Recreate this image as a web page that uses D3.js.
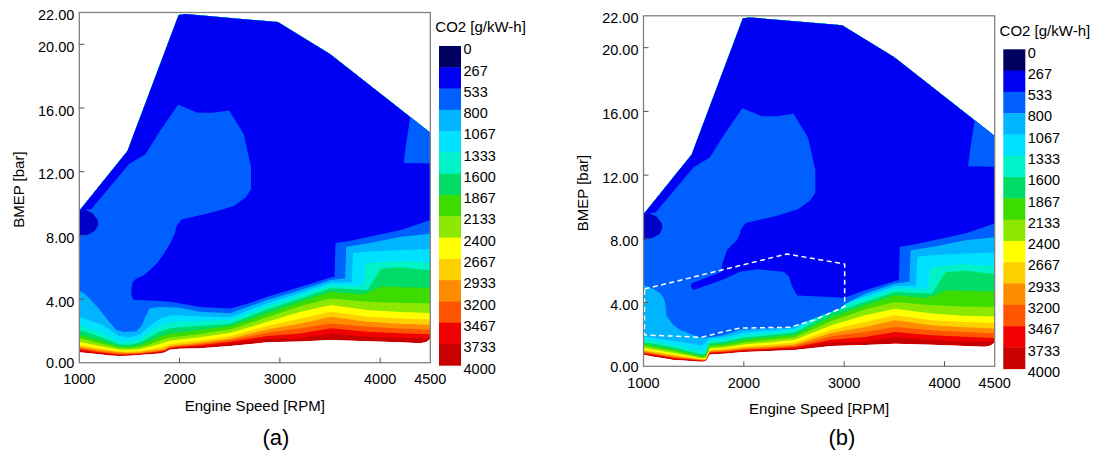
<!DOCTYPE html>
<html>
<head>
<meta charset="utf-8">
<script src="https://cdn.jsdelivr.net/npm/d3@7"></script>
<style>
  body { margin: 0; background: #fff; }
  svg { display: block; }
  text { font-family: "Liberation Sans", Arial, sans-serif; fill: #000; }
</style>
</head>
<body>
<svg id="chart" width="1099" height="457"></svg>
<script>
// ---- colour scale: CO2 [g/kW-h] ----
const levels = [0, 267, 533, 800, 1067, 1333, 1600, 1867, 2133, 2400, 2667, 2933, 3200, 3467, 3733, 4000];
const bandColors = ["#000060", "#0000F5", "#0060FF", "#00B4FF", "#00E1FF", "#00F2C8", "#00DC66",
                    "#3CDC00", "#8CE800", "#FFFF00", "#FFD000", "#FF8C00", "#FF5500", "#F00000", "#C80000"];
const blobNavy = "#0000C8";

// ---- axes ----
const rpmTicks = [1000, 2000, 3000, 4000, 4500];
const bmepTicks = [0, 4, 8, 12, 16, 20, 22];

// ---- operating envelope (rpm, bar) ----
const fullLoad = [[1000, 9.55], [1480, 13.3], [1990, 21.85], [2060, 21.9], [2980, 21.4], [3500, 19.4], [4500, 14.45]];
const bottomEast = [[2874, 1.28], [3207, 1.33], [3507, 1.42], [3874, 1.35], [4200, 1.28], [4400, 1.22], [4460, 1.3], [4500, 1.5]];
const bottomWestA = [[1000, 0.66], [1100, 0.6], [1200, 0.53], [1300, 0.45], [1400, 0.42], [1500, 0.44], [1600, 0.48], [1700, 0.53],
                     [1800, 0.58], [1850, 0.64], [1900, 0.82], [2000, 0.88], [2207, 0.9], [2507, 1.05]];
const bottomWestB = [[1000, 0.72], [1100, 0.6], [1200, 0.5], [1300, 0.4], [1400, 0.36], [1500, 0.32], [1580, 0.29], [1620, 0.31],
                     [1660, 0.74], [1800, 0.78], [2000, 0.9], [2250, 0.96], [2507, 1.03]];

// ---- isolines east of 2850 rpm (shared by both maps) ----
const east3733 = [[2874, 1.51], [3207, 1.53], [3507, 1.84], [3874, 1.63], [4200, 1.55], [4500, 1.55]];
const east3467 = [[2874, 1.67], [3207, 1.84], [3507, 2.16], [3874, 1.95], [4200, 1.85], [4500, 1.78]];
const east3200 = [[2874, 1.88], [3207, 2.16], [3507, 2.47], [3874, 2.26], [4200, 2.15], [4500, 2.07]];
const east2933 = [[2874, 2.09], [3207, 2.47], [3507, 2.89], [3874, 2.57], [4200, 2.45], [4500, 2.38]];
const east2667 = [[2874, 2.3], [3207, 2.78], [3507, 3.2], [3874, 2.89], [4200, 2.78], [4500, 2.72]];
const east2400 = [[2874, 2.57], [3207, 3.2], [3507, 3.62], [3874, 3.31], [4200, 3.18], [4500, 3.12]];
const east2133 = [[2874, 2.85], [3207, 3.56], [3507, 4.04], [3874, 3.83], [4200, 3.76], [4500, 3.72]];
const east1867 = [[2874, 3.1], [3207, 3.83], [3507, 4.46], [3807, 4.3], [3900, 4.45], [4007, 4.78], [4500, 4.7]];
const east1600 = [[2874, 3.35], [3207, 4.04], [3507, 4.67], [3874, 4.56], [3950, 5.3], [4010, 5.9], [4207, 6.0], [4500, 5.8]];
const east1333 = [[2874, 3.56], [3207, 4.25], [3507, 4.88], [3830, 4.85], [3860, 6.24], [4207, 6.4], [4500, 6.3]];
const east1067 = [[2874, 3.73], [3207, 4.4], [3507, 5.02], [3715, 5.05], [3730, 6.87], [3874, 6.97], [4207, 7.08], [4500, 7.15]];
const east800 = [[3207, 4.56], [3507, 5.19], [3650, 5.3], [3662, 7.29], [3874, 7.49], [4207, 7.91], [4500, 8.1]];
const east533 = [[3207, 4.77], [3507, 5.36], [3545, 5.4], [3555, 7.5], [3707, 7.66], [4207, 8.33], [4500, 8.96]];

// ---- isolines west of 2850 rpm, map (a) ----
const westA3733 = [[1000, 0.76], [1200, 0.6], [1400, 0.47], [1500, 0.49], [1600, 0.52], [1700, 0.59], [1800, 0.65], [1850, 0.7], [1900, 0.88], [2000, 0.94], [2207, 1.0], [2507, 1.2]];
const westA3467 = [[1000, 0.84], [1200, 0.66], [1400, 0.52], [1500, 0.53], [1600, 0.56], [1700, 0.63], [1800, 0.7], [1850, 0.75], [1900, 0.92], [2000, 1.0], [2207, 1.1], [2507, 1.32]];
const westA3200 = [[1000, 0.92], [1200, 0.72], [1400, 0.58], [1500, 0.58], [1600, 0.6], [1700, 0.68], [1800, 0.75], [1850, 0.8], [1900, 0.97], [2000, 1.05], [2207, 1.18], [2507, 1.42]];
const westA2933 = [[1000, 1.01], [1200, 0.8], [1400, 0.65], [1500, 0.63], [1600, 0.66], [1700, 0.75], [1800, 0.82], [1850, 0.88], [1900, 1.05], [2000, 1.13], [2207, 1.27], [2507, 1.52]];
const westA2667 = [[1000, 1.11], [1200, 0.9], [1400, 0.72], [1500, 0.7], [1600, 0.73], [1700, 0.85], [1800, 0.95], [1900, 1.15], [2000, 1.25], [2207, 1.4], [2507, 1.68]];
const westA2400 = [[1000, 1.32], [1200, 1.05], [1400, 0.82], [1500, 0.8], [1600, 0.85], [1700, 1.0], [1800, 1.18], [1900, 1.38], [2000, 1.45], [2207, 1.6], [2507, 1.88]];
const westA2133 = [[1000, 1.53], [1200, 1.22], [1400, 0.92], [1500, 0.9], [1600, 0.97], [1700, 1.15], [1800, 1.4], [1900, 1.58], [2000, 1.65], [2207, 1.8], [2507, 2.1]];
const westA1867 = [[1000, 1.74], [1200, 1.4], [1400, 1.02], [1500, 1.0], [1600, 1.1], [1700, 1.35], [1800, 1.65], [1900, 1.83], [2000, 1.9], [2207, 2.05], [2507, 2.3]];
const westA1600 = [[1000, 2.05], [1200, 1.65], [1400, 1.15], [1500, 1.12], [1600, 1.25], [1700, 1.6], [1800, 1.95], [1900, 2.15], [2000, 2.22], [2207, 2.3], [2507, 2.45]];
const westA1333 = [[1000, 2.37], [1200, 1.95], [1400, 1.32], [1500, 1.3], [1600, 1.45], [1700, 1.9], [1800, 2.3], [1900, 2.52], [2000, 2.6], [2207, 2.6], [2507, 2.68]];
const westA1067 = [[1000, 2.89], [1200, 2.45], [1300, 2.1], [1400, 1.68], [1500, 1.6], [1600, 1.75], [1700, 2.3], [1800, 2.75], [1900, 2.95], [2000, 2.98], [2207, 2.9], [2507, 2.85]];
const westA800 = [[1000, 4.5], [1050, 4.35], [1100, 4.05], [1200, 3.35], [1300, 2.55], [1370, 2.05], [1450, 1.93], [1570, 1.97], [1620, 2.3],
                  [1660, 2.9], [1700, 3.4], [1800, 3.5], [2000, 3.45], [2207, 3.2], [2507, 3.1], [2874, 3.94]];
// lower edge of the 267-533 region, running west from 2874 rpm
const westA533 = [[2874, 4.15], [2700, 3.75], [2507, 3.4], [2207, 3.5], [1907, 3.83], [1700, 3.9], [1540, 3.95], [1520, 4.2], [1520, 4.6],
                  [1530, 5.05], [1570, 5.3], [1630, 5.45], [1700, 5.8], [1774, 6.24], [1850, 6.9], [1907, 7.5], [1955, 8.15]];

// ---- isolines west of 2850 rpm, map (b) ----
const westB3733 = [[1000, 0.78], [1300, 0.46], [1580, 0.33], [1620, 0.34], [1660, 0.8], [1800, 0.85], [2000, 0.96], [2250, 1.03], [2507, 1.12]];
const westB3467 = [[1000, 0.84], [1300, 0.52], [1580, 0.36], [1620, 0.37], [1660, 0.86], [1800, 0.9], [2000, 1.02], [2250, 1.1], [2507, 1.2]];
const westB3200 = [[1000, 0.9], [1300, 0.58], [1580, 0.39], [1620, 0.4], [1660, 0.92], [1800, 0.96], [2000, 1.08], [2250, 1.17], [2507, 1.28]];
const westB2933 = [[1000, 0.96], [1300, 0.65], [1580, 0.42], [1620, 0.43], [1660, 0.97], [1800, 1.02], [2000, 1.15], [2250, 1.25], [2507, 1.37]];
const westB2667 = [[1000, 1.04], [1300, 0.73], [1580, 0.46], [1620, 0.47], [1660, 1.03], [1800, 1.08], [2000, 1.24], [2250, 1.35], [2507, 1.5]];
const westB2400 = [[1000, 1.15], [1300, 0.83], [1580, 0.5], [1620, 0.52], [1660, 1.12], [1800, 1.17], [2000, 1.37], [2250, 1.5], [2507, 1.66]];
const westB2133 = [[1000, 1.27], [1300, 0.94], [1580, 0.56], [1620, 0.58], [1660, 1.22], [1800, 1.27], [2000, 1.5], [2250, 1.65], [2507, 1.82]];
const westB1867 = [[1000, 1.4], [1300, 1.06], [1580, 0.64], [1620, 0.66], [1660, 1.34], [1800, 1.4], [2000, 1.64], [2250, 1.8], [2507, 1.98]];
const westB1600 = [[1000, 1.53], [1300, 1.2], [1580, 0.74], [1620, 0.8], [1660, 1.46], [1800, 1.53], [2000, 1.8], [2250, 1.95], [2507, 2.12]];
const westB1333 = [[1000, 1.68], [1300, 1.36], [1580, 0.92], [1620, 1.1], [1660, 1.6], [1800, 1.66], [2000, 1.96], [2250, 2.1], [2507, 2.27]];
const westB1067 = [[1000, 1.88], [1300, 1.6], [1580, 1.3], [1620, 1.5], [1660, 1.74], [1800, 1.82], [2000, 2.12], [2250, 2.25], [2507, 2.38]];
const westB800 = [[1000, 5.1], [1100, 4.85], [1165, 4.58], [1200, 4.3], [1215, 4.0], [1232, 3.12], [1298, 2.6], [1365, 2.28], [1500, 1.95],
                  [1585, 1.78], [1640, 1.83], [1700, 1.86], [1800, 1.97], [1965, 2.3], [2300, 2.4], [2465, 2.45], [2698, 3.0], [2965, 3.64], [3005, 3.9]];
const westB533 = [[3005, 4.3], [2532, 4.45], [2482, 5.0], [2448, 5.63], [2398, 5.94], [2132, 6.09], [1965, 5.94], [1782, 5.42], [1498, 4.79],
                  [1472, 5.0], [1482, 5.21], [1782, 5.94], [1782, 6.36], [1832, 7.3], [1932, 7.93], [1960, 8.3]];

// ---- 533-800 island at mid load and high load corner, 0-267 pocket at 1000 rpm ----
const upperBlob = [[1970, 8.6], [2020, 9.0], [2330, 9.45], [2540, 9.85], [2660, 10.4], [2712, 10.9], [2712, 12.3], [2640, 14.35],
                   [2495, 15.85], [2330, 15.7], [2180, 15.7], [1985, 16.2], [1810, 14.6], [1660, 13.1], [1500, 12.5], [1120, 9.65]];
const cornerBlob = [[4300, 15.45], [4290, 15.0], [4260, 13.8], [4235, 12.55], [4500, 12.52], [4500, 14.45]];
const navyBlob = [[1000, 9.55], [1060, 9.6], [1130, 9.4], [1180, 9.0], [1190, 8.7], [1160, 8.3], [1090, 8.05], [1000, 7.95]];

// ---- region marked on map (b) ----
const markedZone = [[1010, 4.85], [2430, 7.05], [3005, 6.42], [3005, 3.75], [2700, 2.9], [2460, 2.45], [1960, 2.4], [1750, 2.1], [1580, 1.82], [1010, 1.97]];

const isoLevels = [3733, 3467, 3200, 2933, 2667, 2400, 2133, 1867, 1600, 1333, 1067, 800];
const isoA = [westA3733.concat(east3733), westA3467.concat(east3467), westA3200.concat(east3200), westA2933.concat(east2933),
              westA2667.concat(east2667), westA2400.concat(east2400), westA2133.concat(east2133), westA1867.concat(east1867),
              westA1600.concat(east1600), westA1333.concat(east1333), westA1067.concat(east1067), westA800.concat(east800)];
const isoB = [westB3733.concat(east3733), westB3467.concat(east3467), westB3200.concat(east3200), westB2933.concat(east2933),
              westB2667.concat(east2667), westB2400.concat(east2400), westB2133.concat(east2133), westB1867.concat(east1867),
              westB1600.concat(east1600), westB1333.concat(east1333), westB1067.concat(east1067), westB800.concat(east800)];

const panels = [
  { key: "a", left: 79.3, right: 430.3, top: 12.5, bottom: 362.7, legX: 439, legTop: 46, legBottom: 365.3,
    caption: "(a)", capX: 276, iso: isoA, floor: bottomWestA.concat(bottomEast), lower533: westA533, zone: null },
  { key: "b", left: 643.5, right: 994.7, top: 15.8, bottom: 366.3, legX: 1003.3, legTop: 49.3, legBottom: 368.7,
    caption: "(b)", capX: 842, iso: isoB, floor: bottomWestB.concat(bottomEast), lower533: westB533, zone: markedZone }
];

const svg = d3.select("#chart");
const fontPx = "14.5px";

panels.forEach(p => {
  const x = d3.scaleLinear().domain([1000, 4500]).range([p.left, p.right]);
  const y = d3.scaleLinear().domain([0, 22]).range([p.bottom, p.top]);
  const line = d3.line().x(d => x(d[0])).y(d => y(d[1]));
  const g = svg.append("g");

  // operating envelope: full-load curve, then minimum-load curve back
  const envelope = fullLoad.concat(p.floor.slice().reverse());
  const clipId = "env-" + p.key;
  svg.append("clipPath").attr("id", clipId)
    .append("path").attr("d", line(envelope) + "Z");

  const field = g.append("g").attr("clip-path", `url(#${clipId})`);
  field.append("path").attr("d", line(envelope) + "Z").attr("fill", bandColors[14]);

  // filled bands: each level paints everything above its isoline
  const above = d3.area().x(d => x(d[0])).y0(y(22.5)).y1(d => y(d[1]));
  isoLevels.forEach((lv, i) => {
    field.append("path")
      .attr("d", above(p.iso[i]))
      .attr("fill", bandColors[levels.indexOf(lv) - 1]);
  });

  // 267-533 region
  const lowRegion = fullLoad
    .concat(east533.slice().reverse())
    .concat(p.lower533)
    .concat(upperBlob);
  field.append("path").attr("d", line(lowRegion) + "Z").attr("fill", bandColors[1]);
  field.append("path").attr("d", line(cornerBlob) + "Z").attr("fill", bandColors[2]);
  field.append("path").attr("d", line(navyBlob) + "Z").attr("fill", blobNavy);

  if (p.zone) {
    g.append("path").attr("d", line(p.zone) + "Z")
      .attr("fill", "none").attr("stroke", "#fff")
      .attr("stroke-width", 1.5).attr("stroke-dasharray", "5,3.5");
  }

  // frame and inward ticks
  g.append("rect").attr("x", p.left).attr("y", p.top)
    .attr("width", p.right - p.left).attr("height", p.bottom - p.top)
    .attr("fill", "none").attr("stroke", "#808080").attr("stroke-width", 1.3);

  bmepTicks.filter(v => v > 0 && v < 22).forEach(v => {
    g.append("line").attr("x1", p.left).attr("x2", p.left + 5)
      .attr("y1", y(v)).attr("y2", y(v)).attr("stroke", "#555").attr("stroke-width", 1);
  });
  rpmTicks.filter(v => v > 1000 && v < 4500).forEach(v => {
    g.append("line").attr("x1", x(v)).attr("x2", x(v))
      .attr("y1", p.bottom).attr("y2", p.bottom - 5).attr("stroke", "#555").attr("stroke-width", 1);
  });

  const fmt = d3.format(".2f");
  bmepTicks.forEach(v => {
    g.append("text").attr("x", p.left - 5).attr("y", y(v) + (v === 0 ? 0.5 : 2.5))
      .attr("text-anchor", "end").attr("dominant-baseline", "central")
      .style("font-size", fontPx).text(fmt(v));
  });
  rpmTicks.forEach(v => {
    g.append("text").attr("x", x(v)).attr("y", p.bottom + 16.5)
      .attr("text-anchor", "middle").attr("dominant-baseline", "central")
      .style("font-size", fontPx).text(v);
  });

  g.append("text").attr("x", (p.left + p.right) / 2).attr("y", p.bottom + 42.5)
    .attr("text-anchor", "middle").attr("dominant-baseline", "central")
    .style("font-size", "15px").text("Engine Speed [RPM]");
  g.append("text")
    .attr("transform", `translate(${p.left - 61},${(p.top + p.bottom) / 2 + 2}) rotate(-90)`)
    .attr("text-anchor", "middle").attr("dominant-baseline", "central")
    .style("font-size", "15px").text("BMEP [bar]");

  // colour bar
  const yl = d3.scaleLinear().domain([0, 4000]).range([p.legTop, p.legBottom]);
  bandColors.forEach((c, i) => {
    g.append("rect").attr("x", p.legX).attr("width", 22)
      .attr("y", yl(levels[i])).attr("height", yl(levels[i + 1]) - yl(levels[i]) + 0.4)
      .attr("fill", c);
  });
  levels.forEach(v => {
    g.append("text").attr("x", p.legX + 24.5).attr("y", yl(v) + 3.2)
      .attr("dominant-baseline", "central").style("font-size", fontPx).text(v);
  });
  g.append("text").attr("x", p.legX - 3.7).attr("y", p.legTop - 19.3)
    .attr("dominant-baseline", "central").style("font-size", "15px").text("CO2 [g/kW-h]");

  svg.append("text").attr("x", p.capX).attr("y", 437)
    .attr("text-anchor", "middle").attr("dominant-baseline", "central")
    .style("font-size", "22px").text(p.caption);
});
</script>
</body>
</html>
